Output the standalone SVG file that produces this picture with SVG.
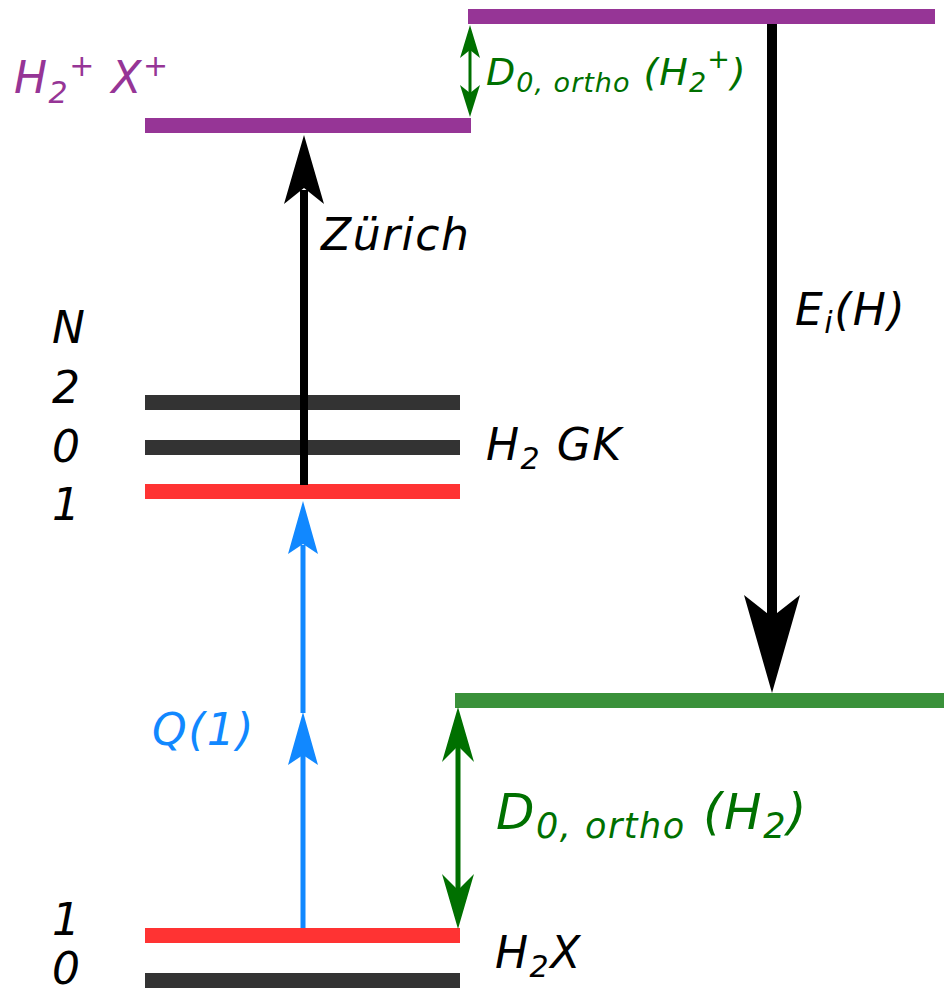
<svg xmlns="http://www.w3.org/2000/svg" width="948" height="992" viewBox="0 0 948 992">
<style>
text{font-family:"DejaVu Sans","Liberation Sans",sans-serif;font-style:italic}
.lbl{font-size:44px;fill:#000;letter-spacing:1.5px}
.pur{fill:#963596}
.grn{fill:#007000}
.blu{fill:#1188ff}
.barP{fill:#963596}
.barG{fill:#3a913a}
.barR{fill:#ff3333}
.barK{fill:#333333}
</style>
<rect width="948" height="992" fill="#fff"/>
<g id="levels">
<g id="ion-left"><rect class="barP" x="145" y="118" width="326" height="15"/></g>
<g id="ion-right"><rect class="barP" x="468" y="9" width="467" height="15"/></g>
<g id="gk-n2"><rect class="barK" x="145" y="395" width="315" height="15"/></g>
<g id="gk-n0"><rect class="barK" x="145" y="440" width="315" height="15"/></g>
<g id="gk-n1"><rect class="barR" x="145" y="484" width="315" height="15"/></g>
<g id="h-limit"><rect class="barG" x="455" y="693" width="489" height="15"/></g>
<g id="x-n1"><rect class="barR" x="145" y="928" width="315" height="15"/></g>
<g id="x-n0"><rect class="barK" x="145" y="973" width="315" height="15"/></g>
</g>
<g id="connectors">
<line x1="304" y1="485" x2="304" y2="190" stroke="#000" stroke-width="8"/>
<polygon points="304,135 324,204 304,188 284,204" fill="#000"/>
<line x1="772" y1="24" x2="772" y2="620" stroke="#000" stroke-width="10"/>
<polygon points="772,693 800,595 772,617 744,595" fill="#000"/>
<line x1="303" y1="928" x2="303" y2="745" stroke="#1188ff" stroke-width="5"/>
<polygon points="303,712 318,765 303,755 288,765" fill="#1188ff"/>
<line x1="303" y1="713" x2="303" y2="545" stroke="#1188ff" stroke-width="5"/>
<polygon points="303,501 318,554 303,544 288,554" fill="#1188ff"/>
<line x1="470" y1="45" x2="470" y2="98" stroke="#007000" stroke-width="3"/>
<polygon points="470,25 480,58 470,50 460,58" fill="#007000"/>
<polygon points="470,117 480,85 470,93 460,85" fill="#007000"/>
<line x1="458" y1="740" x2="458" y2="896" stroke="#007000" stroke-width="5"/>
<polygon points="458,707 474,762 458,746 442,762" fill="#007000"/>
<polygon points="458,929 474,874 458,890 442,874" fill="#007000"/>
</g>
<g id="labels">
<text class="lbl pur" x="14" y="93">H<tspan font-size="30" dy="10">2</tspan><tspan font-size="30" dy="-27">+</tspan><tspan dy="17"> X</tspan><tspan font-size="30" dy="-17">+</tspan></text>
<text class="grn" font-size="38" letter-spacing="1" x="486" y="85">D<tspan font-size="27" dy="7">0, ortho</tspan><tspan dy="-7"> (H</tspan><tspan font-size="27" dy="7">2</tspan><tspan font-size="27" dy="-24">+</tspan><tspan dy="17">)</tspan></text>
<text class="lbl" x="321" y="250">Zürich</text>
<text class="lbl" x="795" y="325">E<tspan font-size="30" dy="8">i</tspan><tspan dy="-8">(H)</tspan></text>
<text class="lbl" x="52" y="343">N</text>
<text class="lbl" x="52" y="403">2</text>
<text class="lbl" x="52" y="462">0</text>
<text class="lbl" x="52" y="520">1</text>
<text class="lbl" x="486" y="460">H<tspan font-size="30" dy="9">2</tspan><tspan dy="-9"> GK</tspan></text>
<text class="lbl blu" letter-spacing="3" x="152" y="745">Q(1)</text>
<text class="grn" font-size="50" letter-spacing="1.5" x="496" y="829">D<tspan font-size="35" dy="9">0, ortho</tspan><tspan dy="-9"> (H</tspan><tspan font-size="35" dy="9">2</tspan><tspan dy="-9">)</tspan></text>
<text class="lbl" x="52" y="935">1</text>
<text class="lbl" x="52" y="984">0</text>
<text class="lbl" x="495" y="968">H<tspan font-size="30" dy="9">2</tspan><tspan dy="-9">X</tspan></text>
</g>
</svg>
